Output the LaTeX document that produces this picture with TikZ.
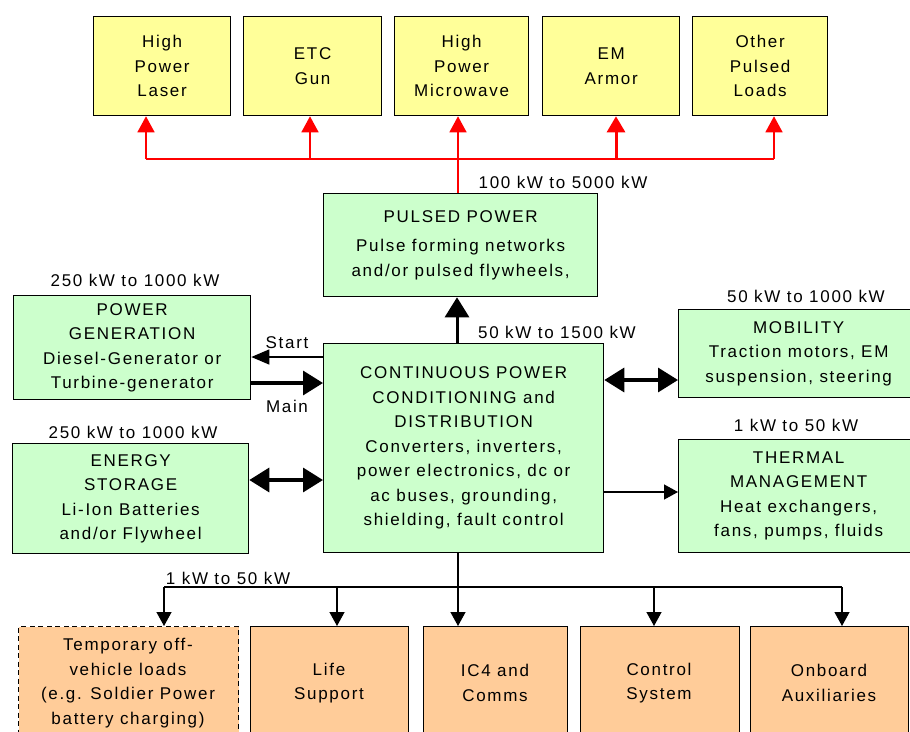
\documentclass[tikz,border=0pt]{standalone}
\usepackage{fontspec}
\setmainfont[LetterSpace=10]{Liberation Sans}
\usetikzlibrary{arrows.meta}
\definecolor{ylw}{HTML}{FFFF99}
\definecolor{grn}{HTML}{CCFFCC}
\definecolor{org}{HTML}{FFCC99}
\definecolor{rd}{HTML}{FF0000}
\tikzset{
  box/.style={draw=black, line width=1.3pt, align=center, inner sep=0pt, anchor=north west,
    font=\fontsize{17}{24.5}\selectfont},
  ybox/.style={box, fill=ylw},
  gbox/.style={box, fill=grn},
  obox/.style={box, fill=org},
  lbl/.style={inner sep=0pt, font=\fontsize{17}{20}\selectfont},
  rline/.style={draw=rd, line width=1.5pt},
  rarr/.style={rline, -{Triangle[width=17pt,length=16pt]}},
  rarrthick/.style={draw=rd, line width=3pt, -{Triangle[width=18pt,length=16pt]}},
  thinarr/.style={line width=1.3pt, -{Triangle[width=15pt,length=14pt]}},
  thickarr/.style={line width=3.4pt, -{Triangle[width=24pt,length=20pt]}},
  thickdbl/.style={line width=3.4pt, {Triangle[width=24pt,length=20pt]}-{Triangle[width=24pt,length=20pt]}},
}
\begin{document}
\begin{tikzpicture}[x=1pt,y=-1pt]
\useasboundingbox[fill=white] (0,0) rectangle (910,731);
% top loads
\node[ybox, minimum width=137pt, minimum height=99pt] (hpl) at (93,16) {High\\Power\\Laser};
\node[ybox, minimum width=138pt, minimum height=99pt] (etc) at (243,16) {ETC\\Gun};
\node[ybox, minimum width=134pt, minimum height=99pt] (hpm) at (394,16) {High\\Power\\Microwave};
\node[ybox, minimum width=137pt, minimum height=99pt] (em) at (542,16) {EM\\Armor};
\node[ybox, minimum width=135pt, minimum height=99pt] (opl) at (692,16) {Other\\Pulsed\\Loads};
% pulsed power
\node[gbox, minimum width=274pt, minimum height=103pt] (pp) at (323,193) {PULSED POWER\\[5pt]Pulse forming networks\\and/or pulsed flywheels,};
% continuous
\node[gbox, minimum width=280pt, minimum height=209pt] (cont) at (323,343) {CONTINUOUS POWER\\CONDITIONING and\\DISTRIBUTION\\Converters, inverters,\\power electronics, dc or\\ac buses, grounding,\\shielding, fault control};
% left
\node[gbox, minimum width=237pt, minimum height=104pt] (pg) at (13,295) {POWER\\GENERATION\\Diesel-Generator or\\Turbine-generator};
\node[gbox, minimum width=236pt, minimum height=110pt] (es) at (12,443) {ENERGY\\STORAGE\\Li-Ion Batteries\\and/or Flywheel};
% right
\node[gbox, minimum width=240pt, minimum height=88pt] (mob) at (678,309) {MOBILITY\\Traction motors, EM\\suspension, steering};
\node[gbox, minimum width=240pt, minimum height=113pt] (thm) at (678,439) {THERMAL\\MANAGEMENT\\Heat exchangers,\\fans, pumps, fluids};
% bottom
\node[obox, dash pattern=on 5pt off 3.5pt, minimum width=220pt, minimum height=120pt] (tmp) at (18,626) {};
\node[lbl, align=center, font=\fontsize{17}{24.5}\selectfont] (tmpt) at (128,683) {Temporary off-\\vehicle loads\\(e.g. Soldier Power\\battery charging)};
\node[obox, minimum width=158pt, minimum height=120pt] (life) at (250,626) {};
\node[lbl, align=center, font=\fontsize{17}{24.5}\selectfont] (lifet) at (329,683) {Life\\Support};
\node[obox, minimum width=144pt, minimum height=120pt] (ic4) at (423,626) {};
\node[lbl, align=center, font=\fontsize{17}{24.5}\selectfont] (ic4t) at (495,683) {IC4 and\\Comms};
\node[obox, minimum width=159pt, minimum height=120pt] (ctl) at (580,626) {};
\node[lbl, align=center, font=\fontsize{17}{24.5}\selectfont] (ctlt) at (659,683) {Control\\System};
\node[obox, minimum width=158pt, minimum height=120pt] (obd) at (750,626) {};
\node[lbl, align=center, font=\fontsize{17}{24.5}\selectfont] (obdt) at (829,683) {Onboard\\Auxiliaries};
% labels
\node[lbl] (l1) at (563,182) {100 kW to 5000 kW};
\node[lbl] (l2) at (557,332) {50 kW to 1500 kW};
\node[lbl] (l3) at (135,280) {250 kW to 1000 kW};
\node[lbl] (l4) at (133,432) {250 kW to 1000 kW};
\node[lbl] (l5) at (806,296) {50 kW to 1000 kW};
\node[lbl] (l6) at (796,425) {1 kW to 50 kW};
\node[lbl] (l7) at (228,578) {1 kW to 50 kW};
\node[lbl] (lstart) at (287,343) {Start};
\node[lbl] (lmain) at (287,406) {Main};
% red pulsed bus
\coordinate (r1) at (146,159);
\coordinate (r2) at (310,159);
\coordinate (r4) at (616,159);
\coordinate (r5) at (774,159);
\coordinate (r3) at (458,159);
\draw[rline] (r1) -- (r5);
\draw[rarr] (r1) -- (r1 |- hpl.south);
\draw[rarr] (r2) -- (r2 |- etc.south);
\draw[rarrthick] (r4) -- (r4 |- em.south);
\draw[rarr] (r5) -- (r5 |- opl.south);
\draw[rarr] (r3 |- pp.north) -- (r3 |- hpm.south);
% cont -> pulsed
\coordinate (cx) at (457,0);
\draw[thickarr, line width=3pt] (cx |- cont.north) -- (cx |- pp.south);
% left connections
\coordinate (ys) at (0,357);
\coordinate (ym) at (0,383);
\coordinate (ye) at (0,480);
\draw[line width=1.3pt, -{Triangle[width=15pt,length=18pt]}] (ys -| cont.west) -- (ys -| pg.east);
\draw[thickarr] (ym -| pg.east) -- (ym -| cont.west);
\draw[thickdbl] (ye -| es.east) -- (ye -| cont.west);
% right connections
\coordinate (ymob) at (0,380);
\coordinate (ythm) at (0,492);
\draw[thickdbl] (ymob -| cont.east) -- (ymob -| mob.west);
\draw[thinarr] (ythm -| cont.east) -- (ythm -| thm.west);
% bottom bus
\coordinate (b1) at (164,587);
\coordinate (b2) at (337,587);
\coordinate (b3) at (458,587);
\coordinate (b4) at (654,587);
\coordinate (b5) at (842,587);
\draw[line width=1.3pt] (b3 |- cont.south) -- (b3);
\draw[line width=1.3pt] (b1) -- (b5);
\draw[thinarr] (b1) -- (b1 |- tmp.north);
\draw[thinarr] (b2) -- (b2 |- life.north);
\draw[thinarr] (b3) -- (b3 |- ic4.north);
\draw[thinarr] (b4) -- (b4 |- ctl.north);
\draw[thinarr] (b5) -- (b5 |- obd.north);
\end{tikzpicture}
\end{document}
